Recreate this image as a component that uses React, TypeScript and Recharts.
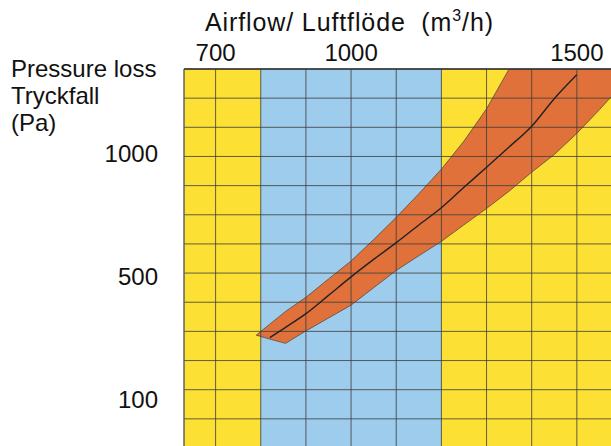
import React from 'react';
import {
  ComposedChart,
  Area,
  Line,
  XAxis,
  YAxis,
  CartesianGrid,
  ReferenceArea,
} from 'recharts';

// Airflow (m3/h) sample points along the band
const FLOWS = [790, 820, 855, 900, 950, 1000, 1050, 1100, 1150, 1200, 1250, 1300, 1350, 1400, 1450, 1500, 1550, 1600];
// Pressure loss (Pa): upper and lower edge of the band, and the nominal curve
const HIGH_PA = [292, 329, 373, 423, 490, 558, 641, 730, 827, 931, 1053, 1197, 1380, 1380, 1380, 1380, 1380, 1380];
const LOW_PA = [292, 279, 265, 306, 350, 395, 458, 522, 578, 634, 700, 766, 838, 918, 994, 1087, 1193, 1306];
const MID_PA: (number | null)[] = [null, 284, 318, 365, 430, 498, 564, 629, 699, 769, 854, 939, 1027, 1119, 1243, 1353, null, null];

const X_TICKS = [700, 800, 900, 1000, 1100, 1200, 1300, 1400, 1500, 1600];
const X_LABELS = [700, 1000, 1500];
const Y_LABELS = [100, 500, 1000];
const BLUE_RANGE = [800, 1200];

const X_MIN = 630;
const X_MAX = 1600;
const Y_TOP_PA = 1380;
const GRID_ROWS = 13;

// the pressure axis of the original is compressed, roughly pa^0.78
const EXP = 0.78;
const toAxis = (pa: number) => Math.pow(pa, EXP);
const fromAxis = (v: number) => Math.pow(v, 1 / EXP);
const Y_MAX = toAxis(Y_TOP_PA);
const yGridTicks = Array.from({ length: GRID_ROWS + 1 }, (_, i) => (Y_MAX * i) / GRID_ROWS);

const YELLOW = '#fce034';
const BLUE = '#9dccec';
const ORANGE = '#e0713a';
const FONT = '"Liberation Sans", Arial, Helvetica, sans-serif';

const data = FLOWS.map((flow, i) => ({
  flow,
  band: [toAxis(LOW_PA[i]), toAxis(HIGH_PA[i])],
  mid: MID_PA[i] == null ? null : toAxis(MID_PA[i] as number),
}));

const tickStyle = { fill: '#111', fontSize: 24, fontFamily: FONT };

export default function App() {
  return (
    <div style={{ position: 'absolute', left: 0, top: 0, width: 611, height: 446, overflow: 'hidden', background: '#fff' }}>
      <ComposedChart width={622} height={448} data={data} margin={{ top: 0, right: 0, bottom: 0, left: 0 }}>
        <ReferenceArea
          yAxisId="pa"
          x1={X_MIN}
          x2={X_MAX}
          fill={YELLOW}
          fillOpacity={1}
          stroke="none"
          zIndex={-300}
        />
        <ReferenceArea
          yAxisId="pa"
          x1={BLUE_RANGE[0]}
          x2={BLUE_RANGE[1]}
          fill={BLUE}
          fillOpacity={1}
          stroke="none"
          zIndex={-250}
        />
        <Area
          yAxisId="pa"
          dataKey="band"
          type="linear"
          fill={ORANGE}
          fillOpacity={1}
          stroke="#5b4a3e"
          strokeWidth={0.8}
          dot={false}
          activeDot={false}
          isAnimationActive={false}
        />
        <CartesianGrid yAxisId="grid" stroke="#3c3c3c" strokeOpacity={0.8} zIndex={150} />
        <Line
          yAxisId="pa"
          dataKey="mid"
          type="monotone"
          stroke="#222"
          strokeWidth={1.4}
          dot={false}
          activeDot={false}
          isAnimationActive={false}
        />
        <XAxis
          dataKey="flow"
          type="number"
          orientation="top"
          domain={[X_MIN, X_MAX]}
          ticks={X_TICKS}
          interval={0}
          allowDataOverflow
          height={69}
          tickLine={false}
          tickSize={0}
          tickMargin={8}
          tick={tickStyle}
          tickFormatter={(v: number) => (X_LABELS.includes(v) ? String(v) : '')}
          axisLine={{ stroke: '#333', strokeWidth: 1.5 }}
        />
        <YAxis yAxisId="grid" hide width={0} type="number" domain={[0, Y_MAX]} ticks={yGridTicks} allowDataOverflow />
        <YAxis
          yAxisId="pa"
          type="number"
          domain={[0, Y_MAX]}
          ticks={Y_LABELS.map(toAxis)}
          interval={0}
          allowDataOverflow
          width={184}
          tickLine={false}
          tickSize={0}
          tickMargin={26}
          tick={tickStyle}
          tickFormatter={(v: number) => String(Math.round(fromAxis(v)))}
          axisLine={{ stroke: '#666' }}
        />
      </ComposedChart>

      {/* titles */}
      <svg
        width={611}
        height={446}
        style={{ position: 'absolute', left: 0, top: 0, pointerEvents: 'none' }}
        fontFamily={FONT}
        fill="#111"
      >
        <text x={205} y={31} fontSize={25} textLength={288} lengthAdjust="spacing" style={{ whiteSpace: 'pre' }}>
          Airflow/ Luftflöde  (m<tspan dy={-10} fontSize={16}>3</tspan>
          <tspan dy={10}>/h)</tspan>
        </text>
        <text x={11} y={77} fontSize={24}>Pressure loss</text>
        <text x={11} y={104} fontSize={24}>Tryckfall</text>
        <text x={11} y={131} fontSize={24}>(Pa)</text>
      </svg>
    </div>
  );
}
